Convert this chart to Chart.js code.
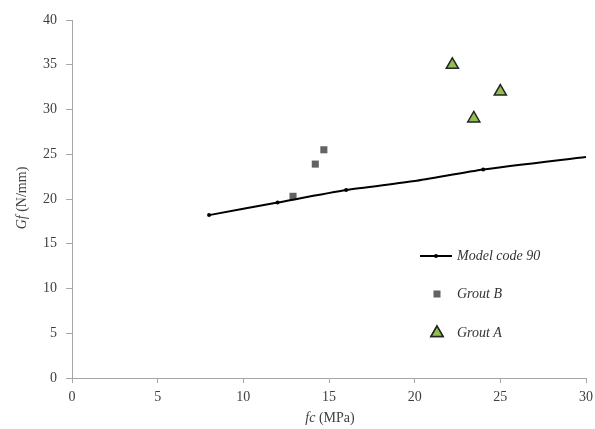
<!DOCTYPE html>
<html>
<head>
<meta charset="utf-8">
<script src="https://cdn.jsdelivr.net/npm/chart.js@4"></script>
<style>
  html, body { margin: 0; padding: 0; background: #fff; }
  #wrap { position: relative; width: 595px; height: 429px; font-family: "Liberation Serif", serif; color: #404040; }
  #chart { position: absolute; left: 0; top: 0; }
  .ttl { position: absolute; font-size: 14px; white-space: nowrap; }
  #xTitle { left: 330px; top: 410px; transform: translateX(-50%); }
  #yTitle { left: 22px; top: 198px; transform: translate(-50%, -50%) rotate(-90deg); }
  .leg { position: absolute; font-size: 14px; font-style: italic; left: 457px; color: #333; }
</style>
</head>
<body>
<div id="wrap">
  <canvas id="chart" width="595" height="429"></canvas>
  <div class="ttl" id="xTitle"><i>fc</i> (MPa)</div>
  <div class="ttl" id="yTitle"><i>Gf</i> (N/mm)</div>
  <canvas id="legendIcons" width="595" height="429" style="position:absolute;left:0;top:0;"></canvas>
  <div class="leg" style="top:248px;">Model code 90</div>
  <div class="leg" style="top:286px;">Grout B</div>
  <div class="leg" style="top:325px;">Grout A</div>
</div>
<script>
// Model code 90 curve
const modelFc = [8, 12, 16, 20, 24, 30];
const modelGf = [18.2, 19.6, 21.0, 22.0, 23.3, 24.7];
const modelMarker = [2, 2, 2, 0, 2, 0];

// Grout B
const groutBFc = [12.9, 14.2, 14.7];
const groutBGf = [20.3, 23.9, 25.5];

// Grout A
const groutAFc = [22.2, 23.45, 25.0];
const groutAGf = [35.0, 29.0, 32.0];

const xTicks = [0, 5, 10, 15, 20, 25, 30];
const yTicks = [0, 5, 10, 15, 20, 25, 30, 35, 40];

const toPoints = (xs, ys) => xs.map((x, i) => ({ x: x, y: ys[i] }));

const axisColor = '#a6a6a6';
const tickFont = { family: 'Liberation Serif', size: 14 };

new Chart(document.getElementById('chart').getContext('2d'), {
  type: 'scatter',
  data: {
    datasets: [
      {
        label: 'Model code 90',
        data: toPoints(modelFc, modelGf),
        showLine: true,
        borderColor: '#000000',
        backgroundColor: '#000000',
        borderWidth: 2,
        pointRadius: modelMarker,
        pointBorderWidth: 0,
        tension: 0.2
      },
      {
        label: 'Grout B',
        data: toPoints(groutBFc, groutBGf),
        pointStyle: 'rect',
        pointRadius: 5,
        backgroundColor: '#636363',
        borderColor: '#636363',
        pointBorderWidth: 0
      },
      {
        label: 'Grout A',
        data: toPoints(groutAFc, groutAGf),
        pointStyle: 'triangle',
        pointRadius: 7,
        backgroundColor: '#92c050',
        borderColor: '#262626',
        pointBorderWidth: 1.5
      }
    ]
  },
  options: {
    responsive: false,
    animation: false,
    layout: { padding: { top: 20, right: 9, left: 0, bottom: 0 } },
    plugins: { legend: { display: false }, tooltip: { enabled: false } },
    scales: {
      x: {
        type: 'linear',
        min: 0,
        max: 30,
        afterBuildTicks: (s) => { s.ticks = xTicks.map(v => ({ value: v })); },
        afterFit: (s) => { s.height = 51; s.paddingRight = 0; s.paddingLeft = 0; },
        ticks: { font: tickFont, color: '#404040', padding: 6 },
        border: { color: axisColor, width: 1 },
        grid: { drawOnChartArea: false, tickLength: 5, color: axisColor }
      },
      y: {
        type: 'linear',
        min: 0,
        max: 40,
        afterBuildTicks: (s) => { s.ticks = yTicks.map(v => ({ value: v })); },
        afterFit: (s) => { s.width = 72; s.paddingTop = 0; s.paddingBottom = 0; },
        ticks: { font: tickFont, color: '#404040', padding: 9 },
        border: { color: axisColor, width: 1 },
        grid: { drawOnChartArea: false, tickLength: 6, color: axisColor }
      }
    }
  }
});

// legend icons
const lc = document.getElementById('legendIcons').getContext('2d');
lc.strokeStyle = '#000';
lc.lineWidth = 2;
lc.beginPath(); lc.moveTo(420, 256); lc.lineTo(452, 256); lc.stroke();
lc.fillStyle = '#000'; lc.beginPath(); lc.arc(436, 256, 2, 0, Math.PI * 2); lc.fill();
lc.fillStyle = '#636363';
lc.fillRect(433.5, 290.5, 7, 7);
lc.fillStyle = '#92c050'; lc.strokeStyle = '#262626'; lc.lineWidth = 1.5;
Chart.helpers.drawPoint(lc, { pointStyle: 'triangle', radius: 7, borderWidth: 1.5 }, 437, 333);
lc.fill(); lc.stroke();
</script>
</body>
</html>
